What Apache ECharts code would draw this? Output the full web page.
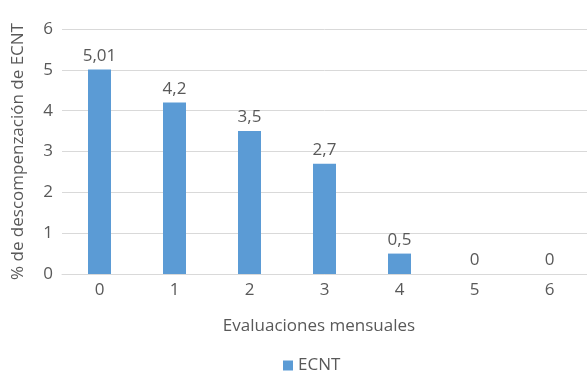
<!DOCTYPE html>
<html>
<head>
<meta charset="utf-8">
<script src="https://cdn.jsdelivr.net/npm/echarts@6/dist/echarts.min.js"></script>
<style>
html, body { margin: 0; padding: 0; background: #fff; }
#chart { width: 587px; height: 371px; }
</style>
</head>
<body>
<div id="chart"></div>
<script>
const categories = ['0', '1', '2', '3', '4', '5', '6'];
const ecntValues = [5.01, 4.2, 3.5, 2.7, 0.5, 0, 0];
const seriesName = 'ECNT';

const chart = echarts.init(document.getElementById('chart'));
const textColor = '#595959';
const font = 'Open Sans';
const fs = 17;

chart.setOption({
    animation: false,
    textStyle: { fontFamily: font },
    grid: { left: 62, right: 0, top: 29, bottom: 97, containLabel: false },
    legend: {
        data: [seriesName],
        left: 278,
        top: 352,
        itemWidth: 10,
        itemHeight: 10,
        itemGap: 6,
        icon: 'rect',
        textStyle: { color: textColor, fontSize: fs, fontFamily: font }
    },
    xAxis: {
        type: 'category',
        data: categories,
        name: 'Evaluaciones mensuales',
        nameLocation: 'middle',
        nameGap: 44,
        nameTextStyle: { color: textColor, fontSize: fs, fontFamily: font, padding: [0, 11, 0, 0] },
        axisLine: { lineStyle: { color: '#D9D9D9' } },
        axisTick: { show: false },
        axisLabel: { color: textColor, fontSize: fs, margin: 8, fontFamily: font }
    },
    yAxis: {
        type: 'value',
        min: 0,
        max: 6,
        interval: 1,
        name: '% de descompenzación de ECNT',
        nameLocation: 'middle',
        nameGap: 35,
        nameTextStyle: { color: textColor, fontSize: fs, fontFamily: font },
        axisLine: { show: false },
        axisTick: { show: false },
        axisLabel: { color: textColor, fontSize: fs, margin: 9, fontFamily: font },
        splitLine: { lineStyle: { color: '#D9D9D9' } }
    },
    series: [{
        name: seriesName,
        type: 'bar',
        data: ecntValues,
        barWidth: 23,
        itemStyle: { color: '#5B9BD5' },
        label: {
            show: true,
            position: 'top',
            distance: 5,
            color: textColor,
            fontSize: fs,
            fontFamily: font,
            formatter: p => String(p.value).replace('.', ',')
        }
    }]
});
</script>
</body>
</html>
